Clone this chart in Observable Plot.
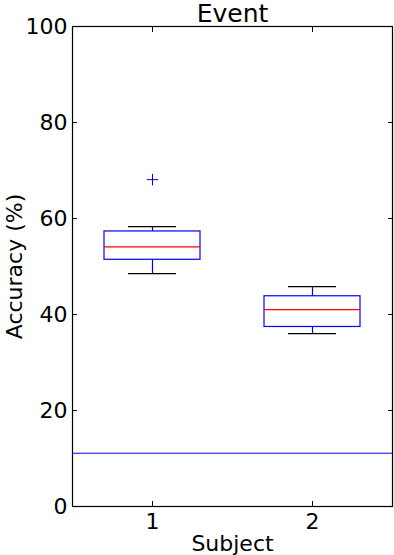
<!DOCTYPE html>
<html>
<head>
<meta charset="utf-8">
<script src="https://cdn.jsdelivr.net/npm/d3@7"></script>
<script src="https://cdn.jsdelivr.net/npm/@observablehq/plot@0.6"></script>
<style>
  html, body { margin: 0; padding: 0; background: white; }
</style>
</head>
<body>
<div id="chart"></div>
<script>
// ---- data ----
const subjects = [1, 2];
const whiskerLow = [48.5, 36.0];
const q1 = [51.4, 37.4];
const medians = [54.1, 41.0];
const q3 = [57.3, 43.8];
const whiskerHigh = [58.3, 45.8];
const outlierSubjects = [1];
const outlierValues = [68.1];
const chanceLevel = 11.1;
const yTicks = [0, 20, 40, 60, 80, 100];
const xTicks = [1, 2];
const titleText = "Event";
const xLabel = "Subject";
const yLabel = "Accuracy (%)";

// ---- build table ----
const boxes = subjects.map((s, i) => ({
  subject: s, lo: whiskerLow[i], q1: q1[i], med: medians[i], q3: q3[i], hi: whiskerHigh[i]
}));
const outliers = outlierSubjects.map((s, i) => ({subject: s, value: outlierValues[i]}));

const BLUE = "#0000ff", RED = "#ff0000";
const halfBox = 0.3, halfCap = 0.15;

const chart = Plot.plot({
  width: 394,
  height: 555,
  marginLeft: 72,
  marginRight: 2,
  marginTop: 26,
  marginBottom: 49,
  x: {domain: [0.5, 2.5]},
  y: {domain: [0, 100]},
  style: {fontFamily: "DejaVu Sans", fontSize: "22px", background: "white", color: "black"},
  marks: [
    // chance line
    Plot.ruleY([chanceLevel], {stroke: BLUE, strokeWidth: 1}),
    // whiskers
    Plot.ruleX(boxes, {x: "subject", y1: "q3", y2: "hi", stroke: BLUE, strokeWidth: 1.2}),
    Plot.ruleX(boxes, {x: "subject", y1: "lo", y2: "q1", stroke: BLUE, strokeWidth: 1.2}),
    // caps
    Plot.ruleY(boxes, {y: "hi", x1: d => d.subject - halfCap, x2: d => d.subject + halfCap, stroke: "black", strokeWidth: 1.2}),
    Plot.ruleY(boxes, {y: "lo", x1: d => d.subject - halfCap, x2: d => d.subject + halfCap, stroke: "black", strokeWidth: 1.2}),
    // boxes
    Plot.rect(boxes, {x1: d => d.subject - halfBox, x2: d => d.subject + halfBox, y1: "q1", y2: "q3", fill: "none", stroke: BLUE, strokeWidth: 1.2}),
    // medians
    Plot.ruleY(boxes, {y: "med", x1: d => d.subject - halfBox, x2: d => d.subject + halfBox, stroke: RED, strokeWidth: 1.2}),
    // outliers
    Plot.dot(outliers, {x: "subject", y: "value", symbol: "plus", r: 3.8, stroke: BLUE, strokeWidth: 1}),
    // frame
    Plot.frame({stroke: "black", strokeWidth: 1.2}),
    // tick labels
    Plot.axisY({ticks: yTicks, tickSize: 0, tickPadding: 5, label: null}),
    Plot.axisX({ticks: xTicks, tickSize: 0, tickPadding: 7, tickFormat: d => String(d), label: null}),
    // inward ticks on all four sides
    Plot.axisY({ticks: yTicks, anchor: "left", tickSize: 5, dx: 5, tickFormat: () => "", label: null}),
    Plot.axisY({ticks: yTicks, anchor: "right", tickSize: 5, dx: -5, tickFormat: () => "", label: null}),
    Plot.axisX({ticks: xTicks, anchor: "bottom", tickSize: 5, dy: -5, tickFormat: () => "", label: null}),
    Plot.axisX({ticks: xTicks, anchor: "top", tickSize: 5, dy: 5, tickFormat: () => "", label: null}),
    // title and axis labels
    Plot.text([titleText], {frameAnchor: "top", lineAnchor: "bottom", dy: -5, fontSize: 25}),
    Plot.text([xLabel], {frameAnchor: "bottom", lineAnchor: "bottom", dy: 44, fontSize: 22}),
    Plot.text([yLabel], {frameAnchor: "left", textAnchor: "middle", rotate: -90, dx: -58, fontSize: 22})
  ]
});
document.getElementById("chart").appendChild(chart);
</script>
</body>
</html>
